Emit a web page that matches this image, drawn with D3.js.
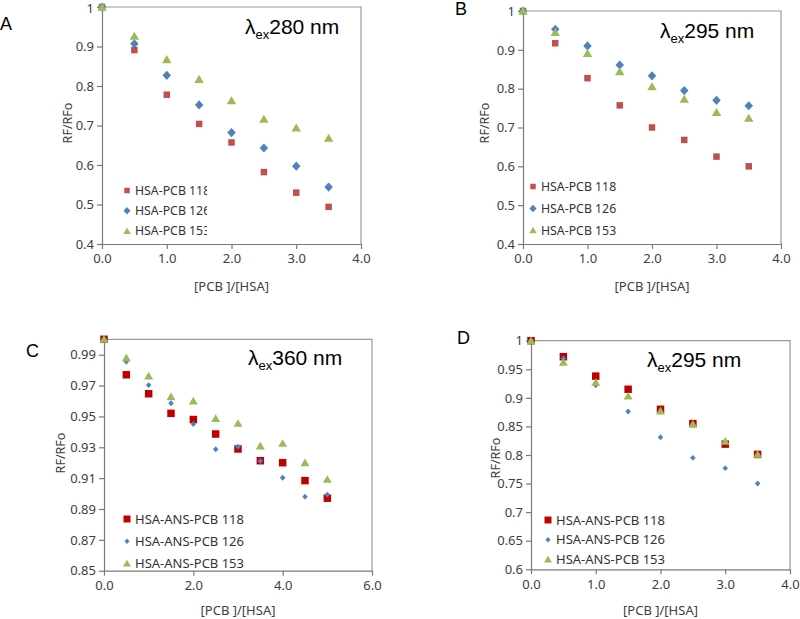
<!DOCTYPE html>
<html><head><meta charset="utf-8">
<script src="https://cdn.jsdelivr.net/npm/d3@7"></script>
<style>
body{margin:0;background:#fff;}
svg{display:block;}
</style></head>
<body><svg id="c" width="800" height="619"></svg>
<script>
// ---------- data ----------
const xAB = [0, 0.5, 1.0, 1.5, 2.0, 2.5, 3.0, 3.5];
const xC = [0, 0.5, 1.0, 1.5, 2.0, 2.5, 3.0, 3.5, 4.0, 4.5, 5.0];
const xD = [0, 0.5, 1.0, 1.5, 2.0, 2.5, 3.0, 3.5];

const a118 = [1.0, 0.891, 0.778, 0.704, 0.657, 0.582, 0.530, 0.494];
const a126 = [1.0, 0.907, 0.827, 0.752, 0.682, 0.643, 0.597, 0.544];
const a153 = [1.0, 0.926, 0.867, 0.817, 0.763, 0.716, 0.694, 0.668];

const b118 = [1.0, 0.917, 0.827, 0.757, 0.700, 0.668, 0.625, 0.600];
const b126 = [1.0, 0.953, 0.910, 0.861, 0.833, 0.795, 0.770, 0.756];
const b153 = [1.0, 0.945, 0.891, 0.844, 0.805, 0.773, 0.739, 0.724];

const c118 = [1.0, 0.977, 0.9647, 0.952, 0.948, 0.9386, 0.9289, 0.9213, 0.920, 0.9084, 0.897];
const c126 = [1.0, 0.9855, 0.9703, 0.9585, 0.9451, 0.9287, 0.9304, 0.9211, 0.9103, 0.898, 0.8993];
const c153 = [1.0, 0.988, 0.9762, 0.9628, 0.960, 0.9487, 0.9455, 0.9308, 0.9325, 0.920, 0.9092];

const d118 = [1.0, 0.972, 0.938, 0.915, 0.880, 0.855, 0.819, 0.801];
const d126 = [1.0, 0.969, 0.922, 0.876, 0.831, 0.795, 0.777, 0.750];
const d153 = [1.0, 0.962, 0.927, 0.903, 0.877, 0.854, 0.824, 0.801];

const namesAB = ["HSA-PCB 118", "HSA-PCB 126", "HSA-PCB 153"];
const namesCD = ["HSA-ANS-PCB 118", "HSA-ANS-PCB 126", "HSA-ANS-PCB 153"];
const ticksYAB = [0.4, 0.5, 0.6, 0.7, 0.8, 0.9, 1];
const ticksYC = [0.85, 0.87, 0.89, 0.91, 0.93, 0.95, 0.97, 0.99];
const ticksYD = [0.6, 0.65, 0.7, 0.75, 0.8, 0.85, 0.9, 0.95, 1];
const ticksX4 = [0, 1, 2, 3, 4];
const ticksX6 = [0, 2, 4, 6];
const xTitle = "[PCB ]/[HSA]";
const yTitle = "RF/RFo";

// ---------- drawing ----------
const svg = d3.select("#c");
const FONT = "'Noto Sans', 'Open Sans', sans-serif";

function markerPath(kind, w) {
  const h = w / 2;
  if (kind === 0) return `M${-h},${-h}H${h}V${h}H${-h}Z`;
  if (kind === 1) { const v = h * 1.08; return `M0,${-v}L${h},0L0,${v}L${-h},0Z`; }
  const th = w * 0.85;
  return `M0,${-th * 0.55}L${h},${th * 0.45}L${-h},${th * 0.45}Z`;
}

function panel(cfg) {
  const g = svg.append("g");
  const x = d3.scaleLinear().domain(cfg.xDomain).range([cfg.l, cfg.r]);
  const y = d3.scaleLinear().domain(cfg.yDomain).range([cfg.b, cfg.t]);

  g.append("path")
    .attr("d", `M${cfg.l},${cfg.t}H${cfg.r}V${cfg.b}`)
    .attr("fill", "none").attr("stroke", "#9a9a9a").attr("stroke-width", 1.2);

  const yAx = g.append("g").attr("transform", `translate(${cfg.l},0)`)
    .call(d3.axisLeft(y).tickValues(cfg.yTicks).tickSize(5).tickSizeOuter(0)
      .tickFormat(d => d === 1 ? "1" : d3.format(cfg.yFmt)(d)));
  const xAx = g.append("g").attr("transform", `translate(0,${cfg.b})`)
    .call(d3.axisBottom(x).tickValues(cfg.xTicks).tickSize(5).tickSizeOuter(0)
      .tickFormat(d3.format(".1f")));
  [yAx, xAx].forEach(a => {
    a.select(".domain").attr("stroke", "#7a7a7a").attr("stroke-width", 1.2);
    a.selectAll(".tick line").attr("stroke", "#7a7a7a").attr("stroke-width", 1.2);
    a.selectAll(".tick text").attr("font-family", FONT).attr("font-size", cfg.tickFs).attr("fill", "#404040");
  });
  yAx.selectAll(".tick text").attr("x", -8);
  // keep the topmost label inside the picture
  yAx.selectAll(".tick text").filter(d => y(d) < 10).attr("y", 10 - y.range()[1] > 0 ? 1.5 : 0);
  xAx.selectAll(".tick text").attr("y", 10);

  g.append("text").attr("x", (cfg.l + cfg.r) / 2).attr("y", cfg.xTitleY)
    .attr("text-anchor", "middle").attr("font-family", FONT).attr("font-size", cfg.tickFs)
    .attr("fill", "#404040").text(xTitle);
  g.append("text").attr("transform", `translate(${cfg.yTitleX},${cfg.yTitleY}) rotate(-90)`)
    .attr("text-anchor", "middle").attr("font-family", FONT).attr("font-size", cfg.tickFs - 0.5)
    .attr("fill", "#404040").text(yTitle);

  cfg.series.forEach((s, i) => {
    g.append("g").selectAll("path").data(s)
      .join("path")
      .attr("d", markerPath(i, cfg.sizes[i]))
      .attr("transform", (d, j) => `translate(${x(cfg.xs[j])},${y(d)})`)
      .attr("fill", cfg.colors[i]);
  });

  const clipId = "clip" + cfg.id;
  svg.append("clipPath").attr("id", clipId).append("rect")
    .attr("x", cfg.legX - 10).attr("y", cfg.legY - 12).attr("width", cfg.legClip - cfg.legX + 10).attr("height", 80);
  const lg = g.append("g").attr("clip-path", `url(#${clipId})`);
  cfg.names.forEach((n, i) => {
    const yy = cfg.legY + i * cfg.legGap;
    lg.append("path").attr("d", markerPath(i, cfg.legSizes[i])).attr("transform", `translate(${cfg.legX},${yy})`).attr("fill", cfg.colors[i]);
    lg.append("text").attr("x", cfg.legX + 8).attr("y", yy).attr("dy", "0.35em")
      .attr("font-family", FONT).attr("font-size", cfg.legFs).attr("fill", "#333").text(n);
  });

  const t = g.append("text").attr("x", cfg.titleX).attr("y", cfg.titleY)
    .attr("font-family", "'Liberation Sans', Arial, sans-serif").attr("font-size", 21).attr("fill", "#000");
  t.append("tspan").text("λ");
  t.append("tspan").attr("font-size", 13).attr("dy", 5).text("ex");
  t.append("tspan").attr("dy", -5).text(cfg.wl + " nm");

  g.append("text").attr("x", cfg.letterX).attr("y", cfg.letterY)
    .attr("font-family", "'Liberation Sans', Arial, sans-serif").attr("font-size", 18).attr("fill", "#000")
    .text(cfg.letter);
}

const colAB = ["#C0504D", "#4F81BD", "#9BBB59"];
const colCD = ["#C00000", "#4F81BD", "#9BBB59"];

panel({id: "A", letter: "A", letterX: 0, letterY: 30, wl: "280", titleX: 245, titleY: 34,
  l: 102, r: 361, t: 7, b: 244, xDomain: [0, 4], yDomain: [0.4, 1],
  xTicks: ticksX4, yTicks: ticksYAB, yFmt: ".1f", tickFs: 13,
  xTitleY: 291, yTitleX: 72, yTitleY: 123,
  xs: xAB, series: [a118, a126, a153], colors: colAB, sizes: [6.5, 8.5, 9.5],
  names: namesAB, legX: 127, legY: 190.5, legGap: 20.3, legClip: 207, legFs: 12.3, legSizes: [5.5, 7, 7.5]});

panel({id: "B", letter: "B", letterX: 455, letterY: 15, wl: "295", titleX: 660, titleY: 38,
  l: 523, r: 781, t: 11, b: 244, xDomain: [0, 4], yDomain: [0.4, 1],
  xTicks: ticksX4, yTicks: ticksYAB, yFmt: ".1f", tickFs: 13,
  xTitleY: 291, yTitleX: 489, yTitleY: 123,
  xs: xAB, series: [b118, b126, b153], colors: colAB, sizes: [6.5, 8.5, 9.5],
  names: namesAB, legX: 533, legY: 186.5, legGap: 22, legClip: 700, legFs: 12.3, legSizes: [5.5, 7, 7.5]});

panel({id: "C", letter: "C", letterX: 26, letterY: 357, wl: "360", titleX: 248, titleY: 365,
  l: 104, r: 372, t: 339.3, b: 570.7, xDomain: [0, 6], yDomain: [0.85, 1.0],
  xTicks: ticksX6, yTicks: ticksYC, yFmt: ".2f", tickFs: 13,
  xTitleY: 615, yTitleX: 65, yTitleY: 453,
  xs: xC, series: [c118, c126, c153], colors: colCD, sizes: [7.5, 5.5, 9],
  names: namesCD, legX: 127, legY: 519, legGap: 22.2, legClip: 245, legFs: 13, legSizes: [7, 5, 8]});

panel({id: "D", letter: "D", letterX: 457, letterY: 344, wl: "295", titleX: 647, titleY: 367,
  l: 531, r: 790, t: 340.7, b: 569.3, xDomain: [0, 4], yDomain: [0.6, 1.0],
  xTicks: ticksX4, yTicks: ticksYD, yFmt: ".2~f", tickFs: 13,
  xTitleY: 615, yTitleX: 500, yTitleY: 458,
  xs: xD, series: [d118, d126, d153], colors: colCD, sizes: [7.5, 5.5, 9],
  names: namesCD, legX: 548, legY: 520, legGap: 19.7, legClip: 700, legFs: 13, legSizes: [7, 5, 8]});
</script></body></html>
